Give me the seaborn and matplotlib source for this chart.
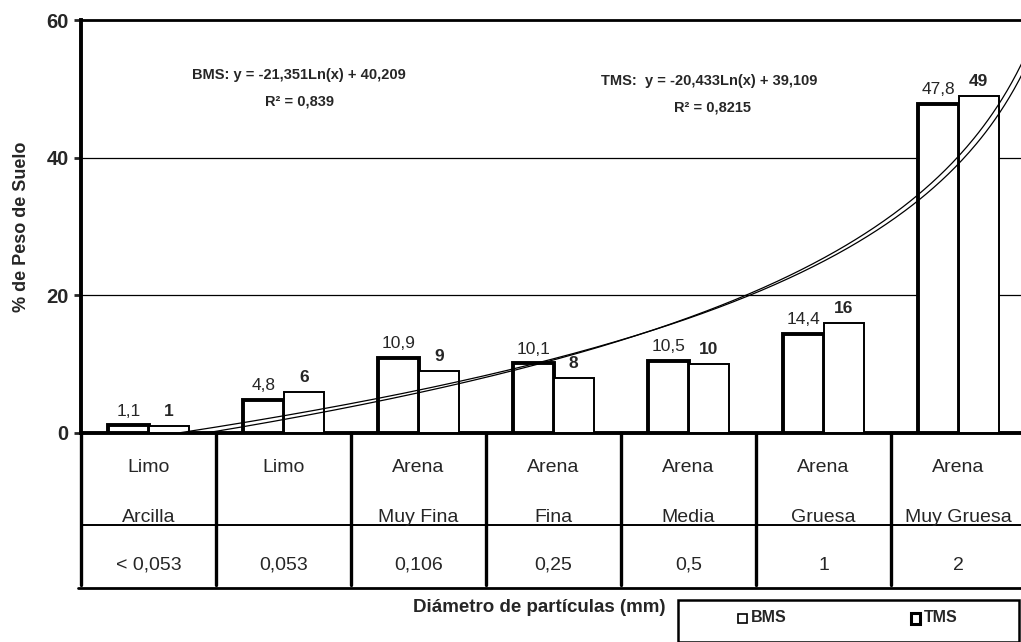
import numpy as np
import pandas as pd
import matplotlib
matplotlib.use("Agg")
import matplotlib.pyplot as plt
import seaborn as sns
from matplotlib.patches import Rectangle

# Particle-size classes and grain diameters (mm)
clase_1 = ["Limo", "Limo", "Arena", "Arena", "Arena", "Arena", "Arena"]
clase_2 = ["Arcilla", "", "Muy Fina", "Fina", "Media", "Gruesa", "Muy Gruesa"]
diametro = ["< 0,053", "0,053", "0,106", "0,25", "0,5", "1", "2"]

# Percentage of soil weight retained per class
bms = [1.1, 4.8, 10.9, 10.1, 10.5, 14.4, 47.8]
tms = [1, 6, 9, 8, 10, 16, 49]

# Logarithmic trend lines (x counted from the coarsest class)
bms_a, bms_b, bms_r2 = -21.351, 40.209, 0.839
tms_a, tms_b, tms_r2 = -20.433, 39.109, 0.8215

sns.set_theme(style="white")
plt.rcParams["font.family"] = ["Liberation Sans", "DejaVu Sans"]

fig = plt.figure(figsize=(10.21, 6.42), dpi=100)
ax = fig.add_axes([81 / 1021, 209 / 642, 945 / 1021, 413 / 642])

n = len(diametro)
df = pd.DataFrame({
    "pos": list(range(n)) * 2,
    "valor": bms + tms,
    "serie": ["BMS"] * n + ["TMS"] * n,
})
sns.barplot(data=df, x="pos", y="valor", hue="serie", width=0.6,
            palette={"BMS": "white", "TMS": "white"}, edgecolor="black",
            legend=False, ax=ax, zorder=3)

widths = {0: 2.8, 1: 1.4}
for k, cont in enumerate(ax.containers):
    for p in cont.patches:
        p.set_linewidth(widths[k])
        p.set_edgecolor("black")
        p.set_zorder(3)


def fmt(v):
    s = f"{v:g}"
    return s.replace(".", ",")


for k, (cont, vals) in enumerate(zip(ax.containers, [bms, tms])):
    for p, v in zip(cont.patches, vals):
        ax.text(p.get_x() + p.get_width() / 2, v + 1.0, fmt(v),
                ha="center", va="bottom", fontsize=12.5,
                fontweight="bold" if k == 1 else "normal", zorder=5)

# Trend lines evaluated along the category axis
xs = np.linspace(-0.5, n - 0.5, 400)
xr = n - xs
for a, b in [(bms_a, bms_b), (tms_a, tms_b)]:
    ys = a * np.log(xr) + b
    m = ys >= 0
    ax.plot(xs[m], ys[m], color="black", lw=0.9, zorder=4)

ax.set_xlim(-0.5, n - 0.5)
ax.set_ylim(0, 60)
ax.set_yticks([0, 20, 40, 60])
ax.set_yticklabels(["0", "20", "40", "60"], fontsize=14.5, fontweight="bold")
ax.set_xticks([])
ax.set_xlabel("")
ax.set_ylabel("% de Peso de Suelo", fontsize=13, fontweight="bold")
ax.yaxis.set_label_coords(-0.054, 0.5)
ax.tick_params(axis="y", length=5, width=2, direction="out", pad=4, left=True)

for y in [20, 40]:
    ax.axhline(y, color="black", lw=0.9, zorder=1)
ax.axhline(60, color="black", lw=2.0, zorder=1, clip_on=False)

for side in ["top", "right"]:
    ax.spines[side].set_visible(False)
ax.spines["left"].set_linewidth(2.8)
ax.spines["bottom"].set_linewidth(2.8)
ax.spines["left"].set_color("black")
ax.spines["bottom"].set_color("black")

# Data table underneath the bars
tr = ax.get_xaxis_transform()
row_line = -92 / 413
bottom_line = -155 / 413
for i in range(n + 1):
    xb = i - 0.5
    ax.plot([xb, xb], [0, -152 / 413], transform=tr, color="black",
            lw=2.4, clip_on=False, zorder=5)
ax.plot([-0.5, n - 0.5], [row_line, row_line], transform=tr, color="black",
        lw=1.4, clip_on=False)
ax.plot([-0.52, n - 0.5], [bottom_line, bottom_line], transform=tr,
        color="black", lw=2.0, clip_on=False)
for i in range(n):
    ax.text(i, -35 / 413, clase_1[i], transform=tr, ha="center", va="center",
            fontsize=14)
    ax.text(i, -89 / 413, clase_2[i], transform=tr, ha="center",
            va="baseline", fontsize=14)
    ax.text(i, -132 / 413, diametro[i], transform=tr, ha="center",
            va="center", fontsize=14)

fig.text(539 / 1021, 1 - 608 / 642, "Diámetro de partículas (mm)",
         ha="center", va="center", fontsize=13.5, fontweight="bold")

# Trend line equations
fig.text(299 / 1021, 1 - 75 / 642,
         f"BMS: y = {fmt(bms_a)}Ln(x) + {fmt(bms_b)}",
         ha="center", va="center", fontsize=10.5, fontweight="bold")
fig.text(299 / 1021, 1 - 101 / 642, f"R² = {fmt(bms_r2)}",
         ha="center", va="center", fontsize=10.5, fontweight="bold")
fig.text(709 / 1021, 1 - 81 / 642,
         f"TMS:  y = {fmt(tms_a)}Ln(x) + {fmt(tms_b)}",
         ha="center", va="center", fontsize=10.5, fontweight="bold")
fig.text(712 / 1021, 1 - 107 / 642, f"R² = {fmt(tms_r2)}",
         ha="center", va="center", fontsize=10.5, fontweight="bold")

# Legend box
fig.patches.append(Rectangle((678 / 1021, 0), 341 / 1021, (642 - 600) / 642,
                             transform=fig.transFigure, fill=False,
                             edgecolor="black", lw=1.8))
fig.patches.append(Rectangle((738 / 1021, 1 - 623 / 642), 9 / 1021, 9 / 642,
                             transform=fig.transFigure, facecolor="white",
                             edgecolor="black", lw=1.2))
fig.text(751 / 1021, 1 - 618 / 642, "BMS", ha="left", va="center",
         fontsize=11.5, fontweight="bold")
fig.patches.append(Rectangle((911 / 1021, 1 - 624 / 642), 9 / 1021, 11 / 642,
                             transform=fig.transFigure, facecolor="white",
                             edgecolor="black", lw=2.2))
fig.text(924 / 1021, 1 - 618 / 642, "TMS", ha="left", va="center",
         fontsize=11.5, fontweight="bold")

fig.savefig("out.png", dpi=100)
